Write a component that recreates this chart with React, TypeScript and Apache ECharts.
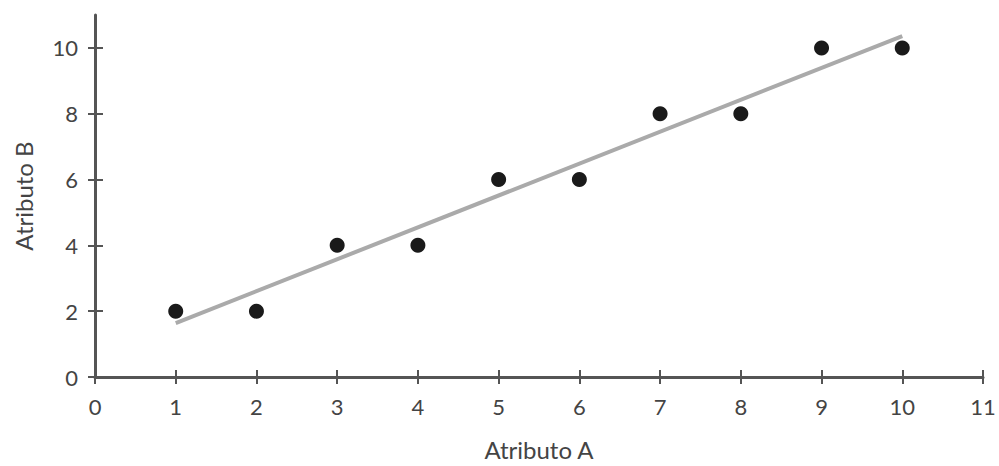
import React, { useEffect, useRef } from "react";
import * as echarts from "echarts";

const attrA: number[] = [1, 2, 3, 4, 5, 6, 7, 8, 9, 10];
const attrB: number[] = [2, 2, 4, 4, 6, 6, 8, 8, 10, 10];
const trendX: number[] = [1, 10];
const trendY: number[] = [1.64, 10.36];
const xTicks: number[] = [0, 1, 2, 3, 4, 5, 6, 7, 8, 9, 10, 11];
const yTicks: number[] = [0, 2, 4, 6, 8, 10];

const FONT = "Lato";
const AXIS_COLOR = "#555";
const LABEL_COLOR = "#444";

export default function App() {
  const ref = useRef<HTMLDivElement>(null);
  useEffect(() => {
    if (!ref.current) return;
    const chart = echarts.init(ref.current, undefined, { renderer: "svg" });
    const baseX = {
      type: "value" as const,
      min: 0,
      max: 11,
      interval: 1,
      position: "bottom" as const,
      splitLine: { show: false },
    };
    const baseY = {
      type: "value" as const,
      min: 0,
      max: 11,
      position: "left" as const,
      splitLine: { show: false },
    };
    chart.setOption({
      animation: false,
      backgroundColor: "#fff",
      grid: { left: 95, right: 16, top: 15, bottom: 86, containLabel: false },
      xAxis: [
        {
          ...baseX,
          name: "Atributo A",
          nameLocation: "middle",
          nameGap: 60,
          nameTextStyle: { fontFamily: FONT, fontSize: 24, color: LABEL_COLOR },
          axisLine: { show: true, lineStyle: { color: AXIS_COLOR, width: 3 } },
          axisTick: { show: true, inside: true, length: 7, customValues: xTicks, lineStyle: { color: AXIS_COLOR, width: 2 } },
          axisLabel: { show: true, customValues: xTicks, margin: 18, fontFamily: FONT, fontSize: 22, color: LABEL_COLOR },
        },
        {
          ...baseX,
          axisLine: { show: false },
          axisTick: { show: true, inside: false, length: 7, customValues: xTicks, lineStyle: { color: AXIS_COLOR, width: 2 } },
          axisLabel: { show: false },
        },
      ],
      yAxis: [
        {
          ...baseY,
          name: "Atributo B",
          nameLocation: "middle",
          nameGap: 60,
          nameRotate: 90,
          nameTextStyle: { fontFamily: FONT, fontSize: 24, color: LABEL_COLOR },
          axisLine: { show: true, lineStyle: { color: AXIS_COLOR, width: 3 } },
          axisTick: { show: true, inside: true, length: 8, customValues: yTicks, lineStyle: { color: AXIS_COLOR, width: 2 } },
          axisLabel: { show: true, customValues: yTicks, margin: 17, fontFamily: FONT, fontSize: 22, color: LABEL_COLOR },
        },
        {
          ...baseY,
          axisLine: { show: false },
          axisTick: { show: true, inside: false, length: 7, customValues: yTicks, lineStyle: { color: AXIS_COLOR, width: 2 } },
          axisLabel: { show: false },
        },
      ],
      series: [
        {
          type: "line",
          data: trendX.map((x, i) => [x, trendY[i]]),
          showSymbol: false,
          symbol: "none",
          lineStyle: { color: "#aaaaaa", width: 4 },
          z: 1,
        },
        {
          type: "scatter",
          data: attrA.map((x, i) => [x, attrB[i]]),
          symbolSize: 15,
          itemStyle: { color: "#1a1a1a", opacity: 1 },
          z: 2,
        },
      ],
    });
    return () => chart.dispose();
  }, []);
  return (
    <div
      ref={ref}
      style={{ position: "fixed", left: 0, top: 0, width: 999, height: 466, background: "#fff" }}
    />
  );
}
